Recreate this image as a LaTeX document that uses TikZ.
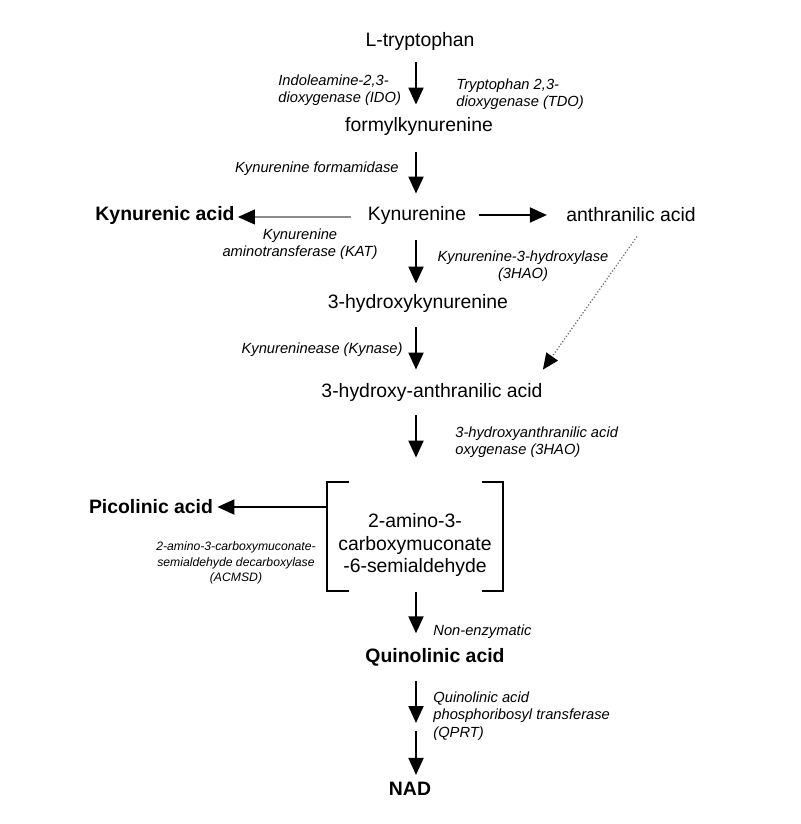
\documentclass[tikz,border=0pt]{standalone}
\usepackage{fontspec}
\setmainfont{Liberation Sans}
\usetikzlibrary{arrows.meta}
\begin{document}
\begin{tikzpicture}[x=0.5pt,y=-0.5pt,
  chem/.style={inner sep=0pt, font=\fontsize{9.7}{11.4}\selectfont, align=center},
  chemb/.style={chem, font=\fontsize{9.7}{11.4}\selectfont\bfseries},
  enz/.style={inner sep=0pt, font=\fontsize{7.35}{8.7}\selectfont\itshape},
  enzs/.style={inner sep=0pt, font=\fontsize{6.1}{7.9}\selectfont\itshape, align=center},
  arr/.style={line width=1pt, -{Triangle[width=7.5pt,length=8.5pt]}},
  thinarr/.style={line width=0.6pt, draw=black!45, -{Triangle[width=7.5pt,length=8.5pt,black]}},
  dotarr/.style={line width=0.6pt, draw=black!60, densely dotted, -{Triangle[width=7pt,length=8pt,black]}},
  bracket/.style={line width=1pt}
]
\path[use as bounding box, fill=white] (0,0) rectangle (800,824);
\coordinate (col) at (416,0);

% main compounds
\node[chem]  (ltrp)   at (420,41)  {L-tryptophan};
\node[chem]  (formyl) at (419,126) {formylkynurenine};
\node[chem]  (kyn)    at (417,215) {Kynurenine};
\node[chemb] (kacid)  at (165,215) {Kynurenic acid};
\node[chem]  (anthr)  at (631,215) {anthranilic acid};
\node[chem]  (hk)     at (418,303) {3-hydroxykynurenine};
\node[chem]  (haa)    at (432,392) {3-hydroxy-anthranilic acid};
\node[inner sep=0pt, minimum width=88pt, minimum height=54.5pt] (box) at (415,536.5) {};
\node[chem]  (acms)   at (415,545) {2-amino-3-\\carboxymuconate\\-6-semialdehyde};
\node[chemb] (pico)   at (151,507) {Picolinic acid};
\node[chemb] (qa)     at (435,657) {Quinolinic acid};
\node[chemb] (nad)    at (410,789) {NAD};
\coordinate (mid) at (416,728);

% brackets
\draw[bracket] ([xshift=11pt]box.north west) -- (box.north west) -- (box.south west) -- ([xshift=11pt]box.south west);
\draw[bracket] ([xshift=-10.5pt]box.north east) -- (box.north east) -- (box.south east) -- ([xshift=-10.5pt]box.south east);

% enzyme labels
\node[enz, anchor=west, align=left] (ido) at (278,90) {Indoleamine-2,3-\\dioxygenase (IDO)};
\node[enz, anchor=west, align=left] (tdo) at (456,94) {Tryptophan 2,3-\\dioxygenase (TDO)};
\node[enz, anchor=east] (kfa) at (399,169) {Kynurenine formamidase};
\node[enz, align=center] (kat) at (300,244) {Kynurenine\\aminotransferase (KAT)};
\node[enz, align=center] (k3h) at (523,266) {Kynurenine-3-hydroxylase\\(3HAO)};
\node[enz, anchor=east] (kyna) at (403,350) {Kynureninease (Kynase)};
\node[enz, anchor=west, align=left] (haao) at (455,442) {3-hydroxyanthranilic acid\\oxygenase (3HAO)};
\node[enzs] (acmsd) at (236,563) {2-amino-3-carboxymuconate-\\semialdehyde decarboxylase\\(ACMSD)};
\node[enz, anchor=west] (nonenz) at (433,632) {Non-enzymatic};
\node[enz, anchor=west, align=left] (qprt) at (433,716) {Quinolinic acid\\phosphoribosyl transferase\\(QPRT)};

% vertical arrows
\draw[arr, shorten <=6pt, shorten >=6pt]   (col |- ltrp.south)   -- (col |- formyl.north);
\draw[arr, shorten <=8.5pt, shorten >=6pt] (col |- formyl.south) -- (col |- kyn.north);
\draw[arr, shorten <=8pt, shorten >=5pt]   (col |- kyn.south)    -- (col |- hk.north);
\draw[arr, shorten <=7.5pt, shorten >=6.5pt] (col |- hk.south)   -- (col |- haa.north);
\draw[arr, shorten <=7pt, shorten >=12pt]  (col |- haa.south)    -- (col |- box.north);
\draw[arr, shorten <=0.5pt, shorten >=7.2pt] (col |- box.south)  -- (col |- qa.north);
\draw[arr, shorten <=7.5pt, shorten >=2.5pt] (col |- qa.south)   -- (mid);
\draw[arr, shorten <=1.5pt, shorten >=3.5pt] (mid) -- (col |- nad.north);

% horizontal arrows
\draw[thinarr, shorten <=8.5pt, shorten >=1.5pt] ([yshift=-1pt]kyn.west) -- ([yshift=-1pt]kacid.east);
\draw[arr, shorten <=6.5pt, shorten >=9.5pt] (kyn.east) -- (anthr.west);
\draw[arr, shorten >=2pt] (box.west |- pico) -- (pico.east);

% dotted arrow
\draw[dotarr] ([xshift=3pt,yshift=-7pt]anthr.south) -- ([yshift=6.5pt]haa.north east);
\end{tikzpicture}
\end{document}
